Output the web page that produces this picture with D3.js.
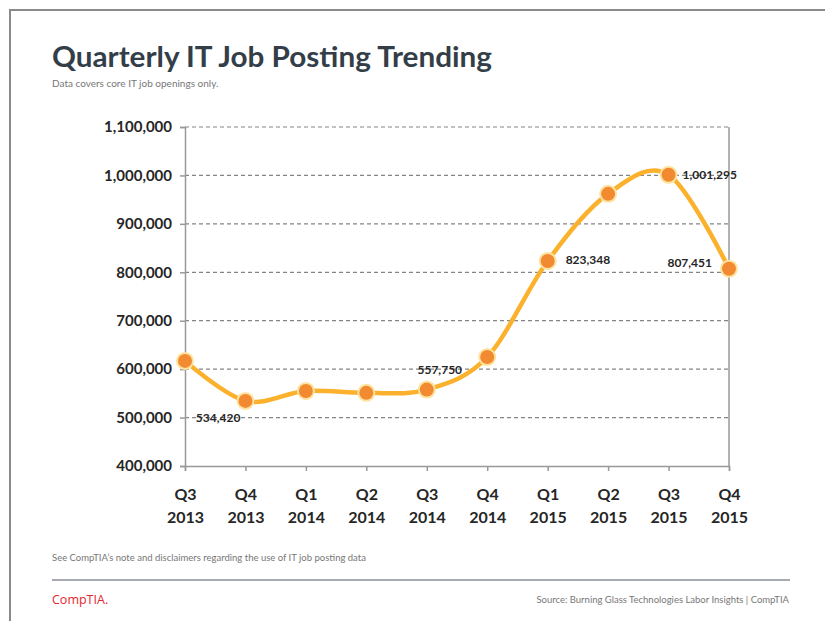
<!DOCTYPE html>
<html>
<head>
<meta charset="utf-8">
<script src="https://cdn.jsdelivr.net/npm/d3@7"></script>
<style>
  body { margin: 0; background: #fff; }
  svg { display: block; font-family: Lato, "Open Sans", sans-serif; }
</style>
</head>
<body>
<svg id="chart" width="825" height="621"></svg>
<script>
const quarters = ['Q3', 'Q4', 'Q1', 'Q2', 'Q3', 'Q4', 'Q1', 'Q2', 'Q3', 'Q4'];
const years = ['2013', '2013', '2014', '2014', '2014', '2014', '2015', '2015', '2015', '2015'];
const postings = [617000, 534420, 555000, 551000, 557750, 625000, 823348, 962000, 1001295, 807451];
const yTicks = [400000, 500000, 600000, 700000, 800000, 900000, 1000000, 1100000];
// which points carry a value label, and where it sits
const labelled = [
  { i: 1, dx: -5, dy: 17, anchor: 'end' },
  { i: 4, dx: 13, dy: -20, anchor: 'middle' },
  { i: 6, dx: 18, dy: -1, anchor: 'start' },
  { i: 8, dx: 14, dy: 0, anchor: 'start' },
  { i: 9, dx: -17, dy: -6, anchor: 'end' }
];

const svg = d3.select('#chart');
const margin = { top: 127, right: 96, bottom: 155, left: 185 };
const width = 825 - margin.left - margin.right;
const height = 621 - margin.top - margin.bottom;

// page frame
svg.append('path')
  .attr('d', 'M10,630 L10,10 L830,10')
  .attr('fill', 'none')
  .attr('stroke', '#8a8a8a')
  .attr('stroke-width', 2);

svg.append('text')
  .attr('x', 52).attr('y', 67)
  .attr('font-size', 29).attr('font-weight', 700)
  .attr('fill', '#333e48')
  .attr('textLength', 440).attr('lengthAdjust', 'spacingAndGlyphs')
  .text('Quarterly IT Job Posting Trending');

svg.append('text')
  .attr('x', 52).attr('y', 87)
  .attr('font-size', 10).attr('fill', '#777')
  .text('Data covers core IT job openings only.');

const g = svg.append('g')
  .attr('transform', 'translate(' + margin.left + ',' + margin.top + ')');

const x = d3.scalePoint()
  .domain(d3.range(postings.length))
  .range([0, width]);

const y = d3.scaleLinear()
  .domain([400000, 1100000])
  .range([height, 0]);

// dashed gridlines
g.selectAll('.grid')
  .data(yTicks.slice(1))
  .enter().append('line')
  .attr('class', 'grid')
  .attr('x1', 0).attr('x2', width)
  .attr('y1', d => y(d)).attr('y2', d => y(d))
  .attr('stroke', '#858585')
  .attr('stroke-width', 1.2)
  .attr('stroke-dasharray', '4,3');

// right edge of plot area
g.append('line')
  .attr('x1', width).attr('x2', width)
  .attr('y1', 0).attr('y2', height)
  .attr('stroke', '#999').attr('stroke-width', 1.5);

const yAxis = g.append('g')
  .call(d3.axisLeft(y).tickValues(yTicks).tickSize(5).tickFormat(d3.format(',')));
yAxis.select('.domain').attr('stroke', '#999').attr('stroke-width', 1.5);
yAxis.selectAll('.tick line').attr('stroke', '#999').attr('stroke-width', 1.5);
yAxis.selectAll('.tick text')
  .attr('x', -13)
  .attr('font-family', 'Lato, sans-serif')
  .attr('font-size', 15).attr('font-weight', 700).attr('fill', '#262626');

const xAxis = g.append('g')
  .attr('transform', 'translate(0,' + height + ')')
  .call(d3.axisBottom(x).tickSize(5).tickFormat(''));
xAxis.select('.domain').attr('stroke', '#999').attr('stroke-width', 1.5);
xAxis.selectAll('.tick line').attr('stroke', '#999').attr('stroke-width', 1.5);
xAxis.selectAll('.tick').each(function (d) {
  const t = d3.select(this).append('text')
    .attr('text-anchor', 'middle')
    .attr('font-family', 'Lato, sans-serif')
    .attr('font-size', 16).attr('font-weight', 700).attr('fill', '#262626');
  t.append('tspan').attr('x', 0).attr('y', 34).text(quarters[d]);
  t.append('tspan').attr('x', 0).attr('y', 57).text(years[d]);
});

const line = d3.line()
  .x((d, i) => x(i))
  .y(d => y(d))
  .curve(d3.curveCardinal.tension(0));

g.append('path')
  .datum(postings)
  .attr('d', line)
  .attr('fill', 'none')
  .attr('stroke', '#fbb12c')
  .attr('stroke-width', 4.5);

g.selectAll('.halo')
  .data(postings)
  .enter().append('circle')
  .attr('class', 'halo')
  .attr('cx', (d, i) => x(i)).attr('cy', d => y(d))
  .attr('r', 9)
  .attr('fill', '#fde3a0');

g.selectAll('.dot')
  .data(postings)
  .enter().append('circle')
  .attr('class', 'dot')
  .attr('cx', (d, i) => x(i)).attr('cy', d => y(d))
  .attr('r', 7)
  .attr('fill', '#f28a32');

g.selectAll('.value')
  .data(labelled)
  .enter().append('text')
  .attr('class', 'value')
  .attr('x', d => x(d.i) + d.dx)
  .attr('y', d => y(postings[d.i]) + d.dy)
  .attr('dy', '0.35em')
  .attr('text-anchor', d => d.anchor)
  .attr('font-size', 12).attr('font-weight', 700).attr('fill', '#262626')
  .text(d => d3.format(',')(postings[d.i]));

// footer
svg.append('text')
  .attr('x', 52).attr('y', 561)
  .attr('font-size', 9.5).attr('fill', '#777')
  .text('See CompTIA\u2019s note and disclaimers regarding the use of IT job posting data');

svg.append('line')
  .attr('x1', 52).attr('x2', 790)
  .attr('y1', 580).attr('y2', 580)
  .attr('stroke', '#8a8f96').attr('stroke-width', 1.5);

svg.append('text')
  .attr('x', 52).attr('y', 604)
  .attr('font-size', 12.5).attr('fill', '#e4262c')
  .attr('font-family', '"Open Sans", sans-serif')
  .text('CompTIA.');

svg.append('text')
  .attr('x', 789).attr('y', 603)
  .attr('text-anchor', 'end')
  .attr('font-size', 9.5).attr('fill', '#777')
  .text('Source: Burning Glass Technologies Labor Insights | CompTIA');
</script>
</body>
</html>
